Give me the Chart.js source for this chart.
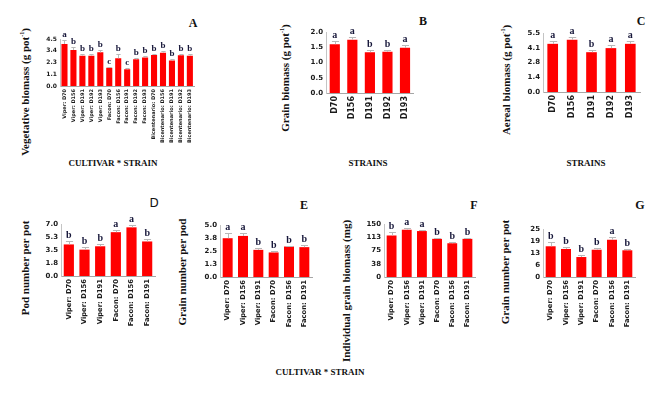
<!DOCTYPE html>
<html>
<head>
<meta charset="utf-8">
<script src="https://cdn.jsdelivr.net/npm/chart.js@4.4.0/dist/chart.umd.min.js"></script>
<style>
  body { margin: 0; background: #fff; }
  #fig { position: relative; width: 663px; height: 394px; overflow: hidden; font-family: "Liberation Serif", "DejaVu Serif", serif; color: #111; }
  canvas { position: absolute; }
  .lbl { position: absolute; font-weight: bold; white-space: nowrap; transform: translate(-50%, -50%); }
  .ytitle { position: absolute; font-weight: bold; white-space: nowrap; font-size: 11px; transform: translate(-50%, -50%) rotate(-90deg); }
  .ytitle sup { font-size: 6px; }
  .panel { font-size: 12px; }
  .axt { font-size: 9px; }
</style>
</head>
<body>
<div id="fig">
  <div class="ytitle" style="left:25px;top:92px">Vegetative biomass (g pot<sup>-1</sup>)</div>
  <div class="ytitle" style="left:285px;top:78px">Grain biomass (g pot<sup>-1</sup>)</div>
  <div class="ytitle" style="left:506px;top:80px">Aereal biomass (g pot<sup>-1</sup>)</div>
  <div class="ytitle" style="left:25px;top:268px">Pod number per pot</div>
  <div class="ytitle" style="left:182px;top:272px">Grain number per pod</div>
  <div class="ytitle" style="left:346px;top:291px">Individual grain biomass (mg)</div>
  <div class="ytitle" style="left:505px;top:272px">Grain number per pot</div>

  <div class="lbl panel" style="left:193px;top:23px">A</div>
  <div class="lbl panel" style="left:423px;top:21px">B</div>
  <div class="lbl panel" style="left:641px;top:21px">C</div>
  <div class="lbl panel" style="left:154px;top:203px;font-family:'DejaVu Sans',sans-serif;font-weight:normal">D</div>
  <div class="lbl panel" style="left:304px;top:205px">E</div>
  <div class="lbl panel" style="left:474px;top:205px">F</div>
  <div class="lbl panel" style="left:640px;top:205px">G</div>

  <div class="lbl axt" style="left:113px;top:163px">CULTIVAR * STRAIN</div>
  <div class="lbl axt" style="left:368px;top:163px">STRAINS</div>
  <div class="lbl axt" style="left:586px;top:163px">STRAINS</div>
  <div class="lbl axt" style="left:320px;top:372px">CULTIVAR * STRAIN</div>
</div>
<script>
// categories
const cultivarStrainA = ['Viper: D70', 'Viper: D156', 'Viper: D191', 'Viper: D192', 'Viper: D193',
  'Facon: D70', 'Facon: D156', 'Facon: D191', 'Facon: D192', 'Facon: D193',
  'Bicentenario: D70', 'Bicentenario: D156', 'Bicentenario: D191', 'Bicentenario: D192', 'Bicentenario: D193'];
const strains = ['D70', 'D156', 'D191', 'D192', 'D193'];
const cultivarStrain = ['Viper: D70', 'Viper: D156', 'Viper: D191', 'Facon: D70', 'Facon: D156', 'Facon: D191'];

// A - vegetative biomass
const vegBiomass = [4.02, 3.45, 2.9, 2.9, 3.22, 1.75, 2.65, 1.6, 2.55, 2.74, 2.97, 3.19, 2.43, 2.94, 2.9];
const vegErr = [0.35, 0.28, 0.18, 0.15, 0.18, 0.1, 0.45, 0.1, 0.15, 0.1, 0.1, 0.15, 0.2, 0.15, 0.15];
const vegLetters = ['a', 'b', 'b', 'b', 'b', 'c', 'b', 'c', 'b', 'b', 'b', 'b', 'b', 'b', 'b'];
const vegTicks = ['0.0', '1.1', '2.3', '3.4', '4.5'];

// B - grain biomass
const grainBiomass = [1.6, 1.75, 1.34, 1.35, 1.48];
const grainErr = [0.09, 0.09, 0.07, 0.07, 0.1];
const grainLetters = ['a', 'a', 'b', 'b', 'a'];
const grainTicks = ['0.0', '0.5', '1.0', '1.5', '2.0'];

// C - aereal biomass
const aerealBiomass = [4.49, 4.87, 3.71, 4.09, 4.49];
const aerealErr = [0.3, 0.28, 0.22, 0.31, 0.25];
const aerealLetters = ['a', 'a', 'b', 'a', 'a'];
const aerealTicks = ['0.0', '1.4', '2.8', '4.1', '5.5'];

// D - pods per pot
const podNumber = [4.25, 3.55, 4.0, 5.9, 6.55, 4.65];
const podErr = [0.5, 0.32, 0.28, 0.32, 0.37, 0.32];
const podLetters = ['b', 'b', 'b', 'a', 'a', 'b'];
const podTicks = ['0.0', '1.8', '3.5', '5.3', '7.0'];

// E - grains per pod
const grainsPerPod = [3.73, 3.95, 2.61, 2.36, 2.93, 2.87];
const grainsPerPodErr = [0.48, 0.32, 0.19, 0.1, 0.06, 0.19];
const grainsPerPodLetters = ['a', 'a', 'b', 'b', 'b', 'b'];
const grainsPerPodTicks = ['0.0', '1.3', '2.5', '3.8', '5.0'];

// F - individual grain biomass
const indivGrain = [117.5, 133.8, 130, 108, 95.5, 108];
const indivGrainErr = [9.5, 4.8, 2, 2, 3, 2];
const indivGrainLetters = ['b', 'a', 'a', 'b', 'b', 'b'];
const indivGrainTicks = ['0', '38', '75', '113', '150'];

// G - grains per pot
const grainsPerPot = [16.0, 14.6, 10.4, 14.2, 19.4, 13.9];
const grainsPerPotErr = [2.1, 1.0, 1.2, 0.7, 1.2, 0.9];
const grainsPerPotLetters = ['b', 'b', 'b', 'b', 'a', 'b'];
const grainsPerPotTicks = ['0', '6', '13', '19', '25'];

// error bars + significance letters
const sigPlugin = {
  id: 'sig',
  afterDatasetsDraw(chart, args, opts) {
    const { ctx } = chart;
    const yScale = chart.scales.y;
    const vals = chart.data.datasets[0].data;
    ctx.save();
    chart.getDatasetMeta(0).data.forEach((bar, i) => {
      const x = Math.round(bar.x) + 0.5;
      const top = Math.round(yScale.getPixelForValue(vals[i] + opts.errors[i])) + 0.5;
      const cap = Math.max(2, bar.width * 0.35);
      ctx.strokeStyle = '#b9b9b9';
      ctx.lineWidth = 1;
      ctx.beginPath();
      ctx.moveTo(x, bar.y);
      ctx.lineTo(x, top);
      ctx.moveTo(x - cap, top);
      ctx.lineTo(x + cap, top);
      ctx.stroke();
      ctx.fillStyle = '#17173a';
      ctx.font = opts.font;
      ctx.textAlign = 'center';
      ctx.textBaseline = 'bottom';
      ctx.fillText(opts.letters[i], bar.x, top - 1);
    });
    ctx.restore();
  }
};

const fig = document.getElementById('fig');

function panel(p) {
  const yW = 20, padTop = 14, padRight = 4;
  const c = document.createElement('canvas');
  const w = yW + (p.right - p.left) + padRight;
  const h = padTop + (p.bottom - p.top) + p.xH;
  c.width = w;
  c.height = h;
  c.style.left = (p.left - yW) + 'px';
  c.style.top = (p.top - padTop) + 'px';
  fig.appendChild(c);
  const n = p.ticks.length - 1;
  new Chart(c, {
    type: 'bar',
    data: {
      labels: p.labels,
      datasets: [{
        data: p.values,
        backgroundColor: '#ff0000',
        barPercentage: p.barPct,
        categoryPercentage: 1
      }]
    },
    options: {
      responsive: false,
      animation: false,
      layout: { padding: { top: padTop, right: padRight, left: 0, bottom: 0 } },
      plugins: {
        legend: { display: false },
        tooltip: { enabled: false },
        sig: { errors: p.errors, letters: p.letters, font: 'bold ' + p.letterSize + 'px "Liberation Serif", serif' }
      },
      scales: {
        x: {
          grid: { display: false, drawTicks: false },
          border: { color: '#a6a6a6' },
          ticks: {
            autoSkip: false, minRotation: 90, maxRotation: 90, padding: 3,
            color: '#1a1a1a',
            font: { family: 'DejaVu Sans', weight: 'bold', size: p.xFont }
          },
          afterFit: s => { s.height = p.xH; }
        },
        y: {
          min: 0,
          max: p.yMax,
          grid: { display: false, drawTicks: false },
          border: { color: '#c4c4c4' },
          afterBuildTicks: s => { s.ticks = p.ticks.map((t, i) => ({ value: p.yMax * i / n })); },
          ticks: {
            padding: 3,
            color: '#1a1a1a',
            callback: (v, i) => p.ticks[i],
            font: { family: 'DejaVu Sans', weight: 'bold', size: p.yFont }
          },
          afterFit: s => { s.width = yW; }
        }
      }
    },
    plugins: [sigPlugin]
  });
}

panel({ labels: cultivarStrainA, values: vegBiomass, errors: vegErr, letters: vegLetters, ticks: vegTicks, yMax: 4.5,
  left: 60, top: 39, right: 195, bottom: 86, xH: 70, xFont: 5, yFont: 6, letterSize: 9, barPct: 0.68 });
panel({ labels: strains, values: grainBiomass, errors: grainErr, letters: grainLetters, ticks: grainTicks, yMax: 2.0,
  left: 326, top: 32, right: 414, bottom: 93, xH: 40, xFont: 8, yFont: 7, letterSize: 10, barPct: 0.58 });
panel({ labels: strains, values: aerealBiomass, errors: aerealErr, letters: aerealLetters, ticks: aerealTicks, yMax: 5.5,
  left: 543, top: 33, right: 640, bottom: 92, xH: 40, xFont: 8, yFont: 7, letterSize: 10, barPct: 0.55 });
panel({ labels: cultivarStrain, values: podNumber, errors: podErr, letters: podLetters, ticks: podTicks, yMax: 7.0,
  left: 61, top: 224, right: 155, bottom: 276, xH: 62, xFont: 6.8, yFont: 7, letterSize: 10, barPct: 0.65 });
panel({ labels: cultivarStrain, values: grainsPerPod, errors: grainsPerPodErr, letters: grainsPerPodLetters, ticks: grainsPerPodTicks, yMax: 5.0,
  left: 220, top: 225, right: 312, bottom: 277, xH: 62, xFont: 6.8, yFont: 7, letterSize: 10, barPct: 0.65 });
panel({ labels: cultivarStrain, values: indivGrain, errors: indivGrainErr, letters: indivGrainLetters, ticks: indivGrainTicks, yMax: 150,
  left: 384, top: 224, right: 475, bottom: 277, xH: 62, xFont: 6.8, yFont: 7, letterSize: 10, barPct: 0.65 });
panel({ labels: cultivarStrain, values: grainsPerPot, errors: grainsPerPotErr, letters: grainsPerPotLetters, ticks: grainsPerPotTicks, yMax: 25,
  left: 543, top: 229, right: 635, bottom: 277, xH: 62, xFont: 6.8, yFont: 7, letterSize: 10, barPct: 0.65 });
</script>
</body>
</html>
